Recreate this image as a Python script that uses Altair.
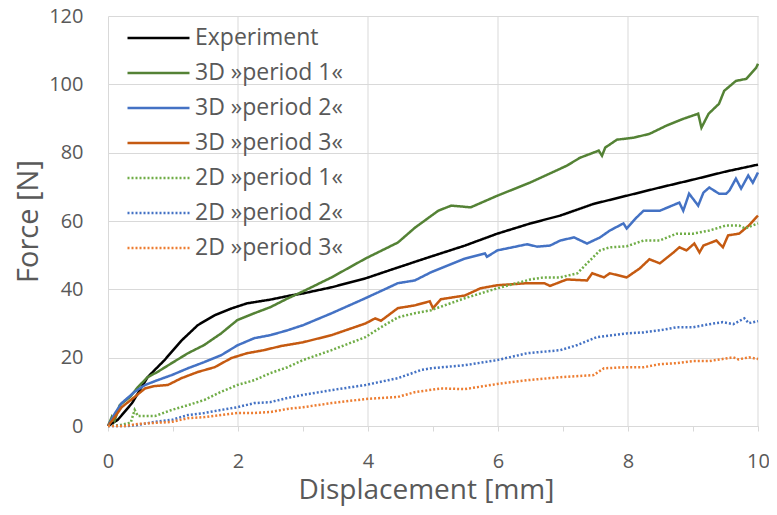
import altair as alt
import pandas as pd

# ---- data: (displacement mm, force N) ----
experiment = [(0, 0), (0.15, 1.8), (0.37, 6.7), (0.61, 14.3), (0.87, 19.3), (1.13, 25), (1.38, 29.5),
              (1.64, 32.4), (1.9, 34.4), (2.14, 35.9), (2.5, 37), (2.81, 38.2), (3.0, 38.8), (3.44, 40.6),
              (3.96, 43.2), (4.46, 46.4), (4.97, 49.6), (5.49, 52.8), (5.99, 56.3), (6.5, 59.3), (6.96, 61.6),
              (7.47, 65.0), (7.98, 67.4), (8.49, 69.8), (9.0, 72.1), (9.51, 74.5), (10.0, 76.5)]

p1_3d = [(0, 0), (0.06, 2.7), (0.1, 1.5), (0.18, 6.1), (0.34, 8.5), (0.46, 11.4), (0.61, 14.3), (0.76, 15.8),
         (0.98, 18.4), (1.23, 21.3), (1.48, 23.7), (1.74, 27.1), (1.99, 31), (2.25, 33), (2.5, 34.8),
         (2.76, 37.3), (3.0, 39.4), (3.44, 43.5), (3.96, 49), (4.46, 53.7), (4.72, 58), (5.08, 63),
         (5.28, 64.5), (5.58, 64), (5.99, 67.4), (6.5, 71.3), (7.06, 76.2), (7.26, 78.5), (7.55, 80.6),
         (7.6, 79.1), (7.65, 81.5), (7.83, 83.8), (8.09, 84.4), (8.33, 85.5), (8.59, 87.9), (8.85, 89.9),
         (9.08, 91.4), (9.13, 87.3), (9.24, 91.4), (9.4, 94.3), (9.48, 98.1), (9.66, 101), (9.82, 101.6),
         (9.97, 104.8), (10.0, 106)]

p2_3d = [(0, 0), (0.1, 3.5), (0.21, 6.7), (0.41, 10), (0.57, 12), (0.76, 13.4), (0.98, 14.9), (1.23, 16.9),
         (1.48, 18.7), (1.74, 20.7), (1.99, 23.6), (2.25, 25.7), (2.5, 26.6), (2.76, 28), (3.0, 29.5),
         (3.44, 33), (3.96, 37.4), (4.46, 41.8), (4.72, 42.6), (4.97, 45), (5.23, 47), (5.49, 49),
         (5.8, 50.5), (5.83, 49.5), (5.99, 51.4), (6.45, 53.2), (6.6, 52.5), (6.8, 52.8), (6.96, 54.3),
         (7.17, 55.2), (7.37, 53.4), (7.57, 55.2), (7.72, 57.2), (7.93, 59.3), (7.98, 57.8), (8.13, 61),
         (8.24, 63), (8.49, 63), (8.79, 65.4), (8.85, 63), (8.94, 68), (9.08, 64.5), (9.16, 68.3),
         (9.25, 69.8), (9.4, 68), (9.51, 68), (9.56, 68.9), (9.66, 72.4), (9.74, 69.5), (9.85, 73.3),
         (9.92, 71.2), (10.0, 74.2)]

p3_3d = [(0, 0), (0.1, 2.5), (0.21, 5.5), (0.41, 8.5), (0.57, 11), (0.72, 11.7), (0.92, 12), (1.13, 14),
         (1.38, 15.8), (1.64, 17.2), (1.9, 19.9), (2.14, 21.3), (2.4, 22.2), (2.66, 23.4), (3.0, 24.5),
         (3.44, 26.6), (3.96, 30), (4.11, 31.5), (4.2, 30.8), (4.46, 34.5), (4.72, 35.3), (4.95, 36.5),
         (5.0, 34.5), (5.12, 37.1), (5.49, 38.2), (5.73, 40.3), (5.99, 41.2), (6.45, 41.8), (6.71, 41.8),
         (6.8, 41.0), (7.06, 42.9), (7.37, 42.6), (7.45, 44.7), (7.63, 43.5), (7.72, 44.7), (7.98, 43.5),
         (8.18, 46.1), (8.33, 48.8), (8.49, 47.6), (8.7, 50.8), (8.79, 52.3), (8.9, 51.4), (9.02, 53.4),
         (9.1, 50.8), (9.16, 52.8), (9.36, 54.3), (9.46, 52.3), (9.54, 55.8), (9.71, 56.3), (9.86, 58.7),
         (10.0, 61.6)]

p1_2d = [(0, 0), (0.2, 0.3), (0.35, 1), (0.41, 4.7), (0.46, 2.9), (0.72, 2.9), (0.98, 4.7), (1.23, 6.1),
         (1.48, 7.6), (1.74, 10), (1.99, 12), (2.25, 13.4), (2.5, 15.5), (2.76, 17.2), (3.0, 19.3),
         (3.44, 22.2), (3.96, 26), (4.2, 28.9), (4.46, 31.8), (4.72, 33), (4.97, 33.9), (5.49, 37.4),
         (5.99, 40.3), (6.5, 42.9), (6.71, 43.5), (6.96, 43.5), (7.22, 44.7), (7.37, 47.6), (7.57, 51.4),
         (7.72, 52.3), (7.98, 52.6), (8.24, 54.3), (8.49, 54.3), (8.75, 56.3), (9.0, 56.3), (9.25, 57.2),
         (9.51, 58.7), (9.71, 58.7), (9.8, 57.8), (10.0, 59.3)]

p2_2d = [(0, 0), (0.3, 0), (0.46, 0.3), (0.72, 1.2), (0.98, 1.8), (1.23, 3.2), (1.48, 3.8), (1.74, 4.7),
         (1.99, 5.5), (2.25, 6.7), (2.5, 7), (2.76, 8.2), (3.0, 9.1), (3.44, 10.5), (3.96, 12), (4.46, 14),
         (4.82, 16.4), (4.97, 16.9), (5.49, 17.8), (5.99, 19.3), (6.45, 21.3), (6.96, 22.2), (7.22, 23.7),
         (7.52, 26), (7.98, 27.1), (8.24, 27.4), (8.49, 28), (8.75, 28.9), (9.0, 28.9), (9.25, 29.8),
         (9.46, 30.4), (9.62, 29.8), (9.79, 31.5), (9.86, 30.1), (10.0, 30.7)]

p3_2d = [(0, 0), (0.26, 0), (0.46, 0.6), (0.72, 0.9), (0.98, 1.2), (1.23, 2.3), (1.48, 2.6), (1.74, 3.2),
         (1.99, 3.8), (2.25, 3.8), (2.5, 4.1), (2.76, 5), (3.0, 5.5), (3.44, 6.7), (3.96, 7.9), (4.46, 8.5),
         (4.72, 9.9), (5.12, 11), (5.49, 10.8), (5.99, 12.3), (6.45, 13.4), (6.96, 14.3), (7.47, 14.9),
         (7.63, 16.9), (7.98, 17.2), (8.24, 17.2), (8.49, 18.1), (8.75, 18.4), (9.0, 19), (9.25, 19),
         (9.62, 20.1), (9.7, 19.5), (9.86, 20.1), (10.0, 19.6)]

labels = ["Experiment", "3D »period 1«", "3D »period 2«", "3D »period 3«",
          "2D »period 1«", "2D »period 2«", "2D »period 3«"]
series = [experiment, p1_3d, p2_3d, p3_3d, p1_2d, p2_2d, p3_2d]
colors = ["#000000", "#548235", "#4472C4", "#C55A11", "#70AD47", "#4472C4", "#ED7D31"]
dashes = [[1, 0], [1, 0], [1, 0], [1, 0], [2, 2], [2, 2], [2, 2]]

x_grid = [2, 4, 6, 8, 10]
x_ticks = [0, 1, 2, 3, 4, 5, 6, 7, 8, 9, 10]
y_ticks = [0, 20, 40, 60, 80, 100, 120]

rows = []
for i, (lab, pts) in enumerate(zip(labels, series)):
    for j, (x, y) in enumerate(pts):
        rows.append({"series": lab, "x": x, "y": y, "order": j, "s": i})
df = pd.DataFrame(rows)
grid_df = pd.DataFrame({"x": x_grid})

FONT = "Open Sans"
TXT = "#595959"
GRID = "#D9D9D9"

xscale = alt.Scale(domain=[0, 10], nice=False)
yscale = alt.Scale(domain=[0, 120], nice=False)

x_axis = alt.Axis(values=x_ticks, grid=False, ticks=True, tickSize=5, tickColor=GRID,
                  domainColor=GRID, labelExpr="datum.value % 2 == 0 ? datum.label : ''",
                  labelFlush=False, labelOverlap=False,
                  labelFont=FONT, labelFontSize=20, labelColor=TXT, labelPadding=20,
                  titleFont=FONT, titleFontSize=28, titleFontWeight="normal", titleColor=TXT,
                  titleX=318, titleY=72, titleBaseline="alphabetic", titleAlign="center")
y_axis = alt.Axis(values=y_ticks, grid=True, gridColor=GRID, ticks=False, domainColor=GRID,
                  labelFont=FONT, labelFontSize=20, labelColor=TXT, labelPadding=25,
                  titleFont=FONT, titleFontSize=29, titleFontWeight="normal", titleColor=TXT,
                  titleX=-80, titleY=205, titleAngle=270, titleBaseline="middle",
                  titleAlign="center")

grid = alt.Chart(grid_df).mark_rule(color=GRID, strokeWidth=1).encode(
    x=alt.X("x:Q", scale=xscale, title="Displacement [mm]", axis=x_axis)
)

lines = alt.Chart(df).mark_line(strokeWidth=2.5).encode(
    x=alt.X("x:Q", scale=xscale, title="Displacement [mm]", axis=x_axis),
    y=alt.Y("y:Q", scale=yscale, title="Force [N]", axis=y_axis),
    color=alt.Color("series:N", sort=labels, scale=alt.Scale(domain=labels, range=colors), title=None),
    strokeDash=alt.StrokeDash("series:N", sort=labels, scale=alt.Scale(domain=labels, range=dashes),
                              title=None),
    detail="s:N",
    order="order:Q",
)

chart = alt.layer(grid, lines).properties(
    width=650, height=410,
    autosize=alt.AutoSizeParams(type="none"),
    padding={"left": 100, "top": 8, "right": 11, "bottom": 81},
).configure_view(stroke=None).configure_legend(
    orient="none", legendX=18, legendY=12, padding=0,
    symbolType="stroke", symbolSize=3844, symbolStrokeWidth=2.5,
    clipHeight=20, rowPadding=12, labelOffset=4,
    labelFont=FONT, labelFontSize=23, labelColor=TXT, labelLimit=300,
)

chart.save("out.html", embed_options={"renderer": "svg", "actions": False})
